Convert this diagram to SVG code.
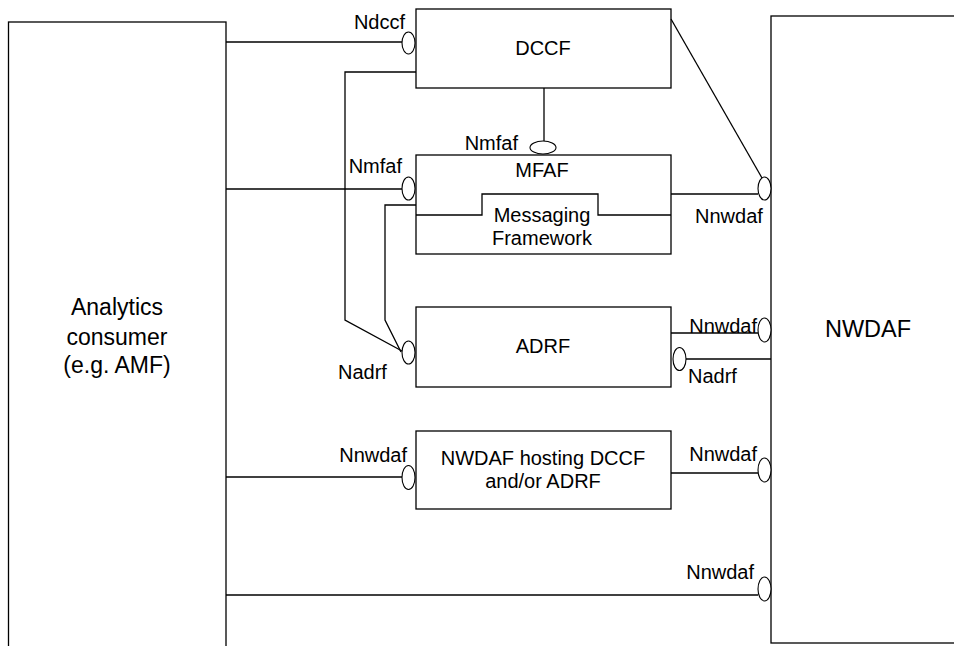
<svg xmlns="http://www.w3.org/2000/svg" width="954" height="646" viewBox="0 0 954 646">
<style>
.box{fill:#fff;stroke:#000;stroke-width:1.3}
.ln{fill:none;stroke:#000;stroke-width:1.3}
.itf{fill:#fff;stroke:#000;stroke-width:1.1}
text{font-family:"Liberation Sans",Arial,sans-serif;fill:#000}
.lbl{font-size:20px}
.big{font-size:23px;text-anchor:middle}
.mid{font-size:20px;text-anchor:middle}
.end{text-anchor:end}
</style>
<rect width="954" height="646" fill="#fff"/>
<g id="consumer">
<rect class="box" x="8.5" y="22" width="217.5" height="640"/>
<text class="big" x="117" y="315">Analytics</text>
<text class="big" x="117" y="345">consumer</text>
<text class="big" x="117" y="373">(e.g. AMF)</text>
</g>
<g id="nwdaf">
<rect class="box" x="771" y="16" width="200" height="627"/>
<text class="big" x="868" y="337" style="font-size:23.5px">NWDAF</text>
</g>
<g id="dccf">
<rect class="box" x="416" y="9" width="255" height="79"/>
<text class="mid" x="543" y="55">DCCF</text>
</g>
<g id="mfaf">
<rect class="box" x="416" y="155" width="255" height="99"/>
<text class="mid" x="542" y="177">MFAF</text>
<path class="ln" d="M416 215 H482 V194 H598 V215 H671"/>
<text class="mid" x="542" y="222">Messaging</text>
<text class="mid" x="542" y="245">Framework</text>
</g>
<g id="adrf">
<rect class="box" x="416" y="307" width="255" height="80"/>
<text class="mid" x="543" y="353">ADRF</text>
</g>
<g id="hosting">
<rect class="box" x="416" y="431" width="255" height="78"/>
<text class="mid" x="543" y="465">NWDAF hosting DCCF</text>
<text class="mid" x="543" y="488">and/or ADRF</text>
</g>
<g id="connectors">
<path class="ln" d="M226 42 H402"/>
<path class="ln" d="M416 72 H345 V320 L402 351"/>
<path class="ln" d="M416 205 H385 V320 L401 352"/>
<path class="ln" d="M226 189 H402"/>
<path class="ln" d="M544 88 V141"/>
<path class="ln" d="M671 19 L762 178"/>
<path class="ln" d="M671 194 H758"/>
<path class="ln" d="M671 333 H758"/>
<path class="ln" d="M686 359 H771"/>
<path class="ln" d="M226 477 H402"/>
<path class="ln" d="M671 473 H758"/>
<path class="ln" d="M226 595 H758"/>
</g>
<g id="interfaces">
<ellipse class="itf" cx="408.5" cy="43" rx="6.5" ry="11"/>
<ellipse class="itf" cx="408.5" cy="188.5" rx="6.5" ry="11.5"/>
<ellipse class="itf" cx="543" cy="147.5" rx="13" ry="6.5"/>
<ellipse class="itf" cx="764.5" cy="188.5" rx="6.5" ry="11.5"/>
<ellipse class="itf" cx="764.5" cy="330" rx="6.5" ry="12"/>
<ellipse class="itf" cx="408.5" cy="352.5" rx="6.5" ry="11.5"/>
<ellipse class="itf" cx="679.5" cy="359" rx="6.5" ry="11.5"/>
<ellipse class="itf" cx="408.5" cy="477.5" rx="6.5" ry="12"/>
<ellipse class="itf" cx="764.5" cy="470" rx="6.5" ry="12"/>
<ellipse class="itf" cx="764.5" cy="589" rx="6.5" ry="12"/>
</g>
<g id="labels">
<text class="lbl end" x="405" y="29">Ndccf</text>
<text class="lbl end" x="402" y="173">Nmfaf</text>
<text class="lbl end" x="518" y="150">Nmfaf</text>
<text class="lbl" x="695" y="223">Nnwdaf</text>
<text class="lbl end" x="757" y="333">Nnwdaf</text>
<text class="lbl" x="688" y="383">Nadrf</text>
<text class="lbl" x="338" y="379">Nadrf</text>
<text class="lbl end" x="407" y="462">Nnwdaf</text>
<text class="lbl end" x="757" y="461">Nnwdaf</text>
<text class="lbl end" x="754" y="579">Nnwdaf</text>
</g>
</svg>
